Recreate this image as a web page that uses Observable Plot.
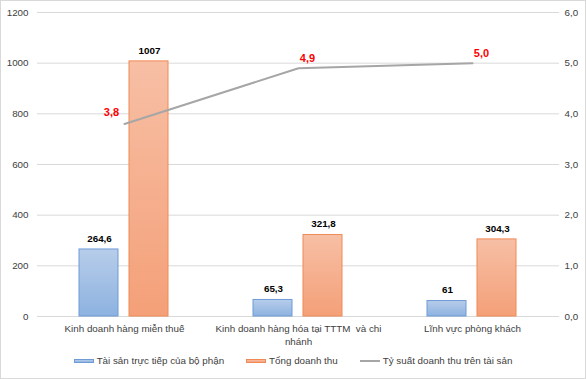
<!DOCTYPE html>
<html>
<head>
<meta charset="utf-8">
<script src="https://cdn.jsdelivr.net/npm/d3@7"></script>
<script src="https://cdn.jsdelivr.net/npm/@observablehq/plot@0.6"></script>
<style>
  body { margin: 0; background: #fff; }
  #wrap { position: relative; width: 586px; height: 379px; font-family: "Liberation Sans", Arial, sans-serif; overflow: hidden; }
  #border { position: absolute; left: 0; top: 0; width: 586px; height: 379px; box-sizing: border-box; border: 1px solid #d9d9d9; pointer-events: none; }
  #legend { position: absolute; left: 0; top: 355px; width: 586px; display: flex; justify-content: center; align-items: center; gap: 0; font-size: 9.8px; color: #404040; }
  .item { display: flex; align-items: center; margin: 0 11px; }
  .sw { width: 20px; height: 4px; margin-right: 3px; box-sizing: border-box; }
  .ln { width: 20px; height: 2px; background: #a6a6a6; margin-right: 3px; }
</style>
</head>
<body>
<div id="wrap">
  <div id="chart"></div>
  <div id="legend"></div>
  <div id="border"></div>
</div>
<script>
const categories = ["Kinh doanh hàng miễn thuế", "Kinh doanh hàng hóa tại TTTM  và chi nhánh", "Lĩnh vực phòng khách"];
const categoryLabels = ["Kinh doanh hàng miễn thuế", "Kinh doanh hàng hóa tại TTTM  và chi\nnhánh", "Lĩnh vực phòng khách"];
const assets = [264.6, 65.3, 61];
const revenue = [1007, 321.8, 304.3];
const ratio = [3.8, 4.9, 5.0];
const seriesNames = ["Tài sản trực tiếp của bộ phận", "Tổng doanh thu", "Tỷ suất doanh thu trên tài sản"];
const leftTicks = [0, 200, 400, 600, 800, 1000, 1200];
const rightTicks = [0, 1, 2, 3, 4, 5, 6];

const RIGHT_MAX = 6, LEFT_MAX = 1200;
const fmt = v => String(v).replace(".", ",");
const fmt1 = v => v.toFixed(1).replace(".", ",");

const assetData = categories.map((c, i) => ({cat: c, v: assets[i]}));
const revData = categories.map((c, i) => ({cat: c, v: revenue[i]}));
const ratioData = categories.map((c, i) => ({cat: c, r: ratio[i], y: ratio[i] * LEFT_MAX / RIGHT_MAX}));

function defs() {
  const ns = "http://www.w3.org/2000/svg";
  const d = document.createElementNS(ns, "defs");
  const mk = (id, c1, c2) => {
    const g = document.createElementNS(ns, "linearGradient");
    g.setAttribute("id", id);
    g.setAttribute("x1", "0"); g.setAttribute("y1", "0");
    g.setAttribute("x2", "0"); g.setAttribute("y2", "1");
    [[0, c1], [1, c2]].forEach(([o, c]) => {
      const s = document.createElementNS(ns, "stop");
      s.setAttribute("offset", o);
      s.setAttribute("stop-color", c);
      g.appendChild(s);
    });
    d.appendChild(g);
  };
  mk("gBlue", "#b7cdea", "#8db2e0");
  mk("gOrange", "#f7bfa5", "#f4a078");
  return d;
}

const chart = Plot.plot({
  width: 586,
  height: 352,
  marginLeft: 37,
  marginRight: 27,
  marginTop: 12,
  marginBottom: 36,
  style: {fontFamily: "Liberation Sans, Arial, sans-serif", fontSize: "9.8px", color: "#404040", background: "transparent"},
  x: {domain: categories, padding: 0, label: null},
  y: {domain: [0, LEFT_MAX], label: null},
  marks: [
    defs,
    Plot.gridY(leftTicks, {stroke: "#d9d9d9", strokeOpacity: 1}),
    Plot.axisY(leftTicks, {anchor: "left", tickSize: 0, tickPadding: 9, fill: "#404040", label: null,
      tickFormat: d => String(d)}),
    Plot.axisY(leftTicks, {anchor: "right", tickSize: 0, tickPadding: 5, fill: "#404040", label: null,
      tickFormat: d => fmt1(d * RIGHT_MAX / LEFT_MAX)}),
    Plot.axisX({tickSize: 0, tickPadding: 6, fill: "#404040", lineHeight: 1.35, label: null,
      tickFormat: d => categoryLabels[categories.indexOf(d)]}),
    Plot.barY(assetData, {x: "cat", y: "v", insetLeft: 42, insetRight: 93, fill: "url(#gBlue)", stroke: "#6f9bd6", strokeWidth: 1}),
    Plot.barY(revData, {x: "cat", y: "v", insetLeft: 92, insetRight: 43, fill: "url(#gOrange)", stroke: "#f08a56", strokeWidth: 1}),
    Plot.text(assetData, {x: "cat", y: "v", text: d => fmt(d.v), dx: -25, dy: -11, fontWeight: "bold", fill: "#000"}),
    Plot.text(revData, {x: "cat", y: "v", text: d => fmt(d.v), dx: 25, dy: -11, fontWeight: "bold", fill: "#000"}),
    Plot.lineY(ratioData, {x: "cat", y: "y", stroke: "#a6a6a6", strokeWidth: 2}),
    Plot.text(ratioData.slice(0, 1), {x: "cat", y: "y", text: d => fmt1(d.r), dx: -13, dy: -11, fontWeight: "bold", fill: "#ff0000", fontSize: 11}),
    Plot.text(ratioData.slice(1), {x: "cat", y: "y", text: d => fmt1(d.r), dx: 9, dy: -10, fontWeight: "bold", fill: "#ff0000", fontSize: 11})
  ]
});
document.getElementById("chart").appendChild(chart);

const legend = document.getElementById("legend");
const sw = [
  {cls: "sw", bg: "linear-gradient(#b7cdea,#8db2e0)", border: "1px solid #6f9bd6"},
  {cls: "sw", bg: "linear-gradient(#f7bfa5,#f4a078)", border: "1px solid #f08a56"},
  {cls: "ln"}
];
seriesNames.forEach((name, i) => {
  const it = document.createElement("div");
  it.className = "item";
  const s = document.createElement("div");
  s.className = sw[i].cls;
  if (sw[i].bg) { s.style.background = sw[i].bg; s.style.border = sw[i].border; }
  const t = document.createElement("span");
  t.textContent = name;
  it.appendChild(s); it.appendChild(t);
  legend.appendChild(it);
});
</script>
</body>
</html>
